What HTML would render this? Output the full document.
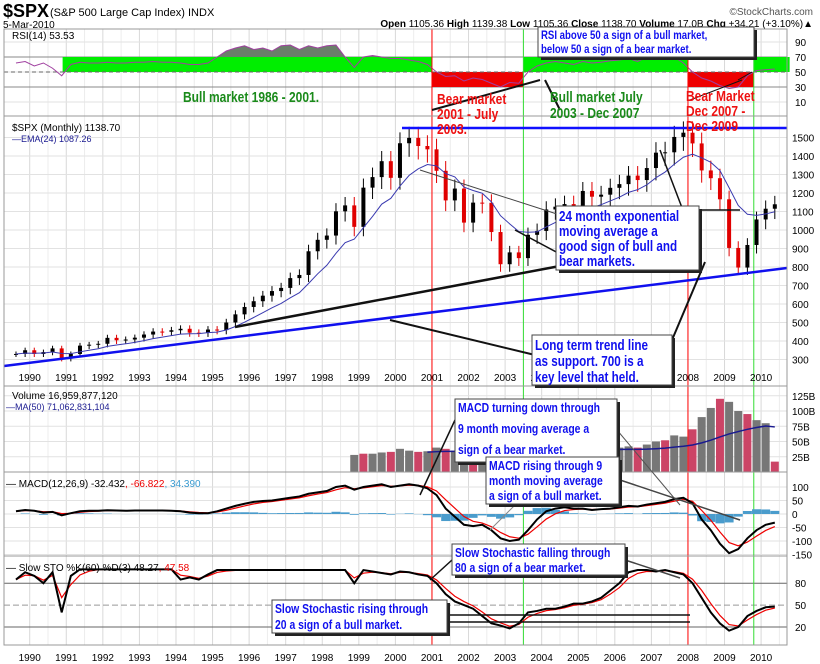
<!DOCTYPE html>
<html><head><meta charset="utf-8">
<style>
html,body{margin:0;padding:0;background:#fff;}
svg{display:block;font-family:"Liberation Sans",sans-serif;}
.ann{font-family:"Liberation Sans Narrow","Liberation Sans",sans-serif;font-weight:bold;}
</style></head>
<body>
<svg id="chart" width="820" height="664" viewBox="0 0 820 664" xmlns="http://www.w3.org/2000/svg">
<rect x="0" y="0" width="820" height="664" fill="#fff"/>
<g>
<text x="3" y="17" font-size="18" font-weight="bold">$SPX</text>
<text x="50" y="16" font-size="11">(S&amp;P 500 Large Cap Index) INDX</text>
<text x="3" y="28" font-size="10">5-Mar-2010</text>
<text x="813" y="15" font-size="10" text-anchor="end" fill="#555">©StockCharts.com</text>
<text x="813" y="27" font-size="10" text-anchor="end"><tspan font-weight="bold">Open</tspan> 1105.36 <tspan font-weight="bold">High</tspan> 1139.38 <tspan font-weight="bold">Low</tspan> 1105.36 <tspan font-weight="bold">Close</tspan> 1138.70 <tspan font-weight="bold">Volume</tspan> 17.0B <tspan font-weight="bold">Chg</tspan> +34.21 (+3.10%)▲</text>
</g>
<g id="grid"></g>
<g id="bands"></g>
<g id="marks"></g>
<g id="frames"></g>
<g id="axes"></g>
<g id="anno"></g>
</svg>
<script>
// ---- data (quarterly, starting 1989.5) ----
var startYear = 1989.5;
var closes = [330,350, 330,340,360,305, 330,375,380,385, 417,404,408,418, 435,451,450,458, 466,445,444,462, 459,500,544,584, 615,645,670,687, 740,757,885,947, 970,1101,1133,1017, 1229,1286,1372,1282, 1469,1498,1454,1436, 1320,1160,1224,1040, 1148,1147,989,815, 879,848,974,995, 1111,1126,1140,1114, 1211,1180,1191,1228, 1248,1294,1270,1335, 1418,1420,1503,1526, 1468,1322,1280,1166, 903,797,919,1057, 1115,1139];
var rsiValues = [62,64, 58,62,55,45, 60,63,62,62, 63,62,62,63, 63,64,63,63, 62,60,60,62, 70,78,82,85, 80,82,78,85, 86,80,85,82, 85,86,70,56, 70,72,70,68, 68,66,64,60, 50,44,45,38, 42,40,35,30, 36,35,50,58, 62,64,62,60, 64,62,63,65, 66,68,64,70, 72,74,70,62, 50,42,38,32, 28,30,45,52, 53,54];
var volumeStart = 1998.75;
var volumeValues = [28, 30,30,32,33, 38,35,33,34, 40,38,35,40, 38,36,42,40, 38,36,34,35, 37,35,34,36, 36,37,36,38, 40,42,40,45, 50,52,60,58, 70,90,105,120, 115,100,95,85, 80,17];
var macdValues = [10,15, 12,5,8,-5, 3,10,12,12, 14,13,12,13, 13,13,13,12, 10,5,3,3, 10,20,30,38, 45,48,50,55, 60,65,75,80, 85,100,105,90, 100,105,110,100, 105,110,105,95, 70,20,-10,-40, -45,-40,-60,-90, -100,-95,-60,-20, 10,20,25,20, 20,15,18,20, 25,30,28,35, 40,45,55,60, 40,-20,-60,-110, -145,-130,-90,-60, -40,-32];
var stoKValues = [85,95, 90,80,95,40, 90,100,100,100, 100,100,100,100, 100,100,100,100, 85,88,85,92, 98,98,98,98, 98,98,98,98, 98,98,98,98, 98,98,98,80, 98,96,94,92, 96,95,92,90, 80,65,55,50, 45,35,25,22, 18,25,40,42, 45,45,48,52, 52,55,60,70, 80,95,98,98, 96,98,95,92, 80,60,40,25, 15,20,35,42, 47,48];
var yearLabels = [1990,1991,1992,1993,1994,1995,1996,1997,1998,1999,2000,2001,2002,2003,2004,2005,2006,2007,2008,2009,2010];
var priceTicks = [300,400,500,600,700,800,900,1000,1100,1200,1300,1400,1500];
var rsiTicks = [10,30,50,70,90];
var volTicks = [25,50,75,100,125];
var macdTicks = [-150,-100,-50,0,50,100];
var stoTicks = [20,50,80];

// ---- scales ----
var L=4, R=787;
function x(t){return 29.7+(t-1990)*36.57;}
function yP(p){return 230-(p-1000)*0.185;}
function yR(v){return 72-(v-50)*0.75;}
function yV(v){return 472-v*0.61;}
function yM(v){return 514-v*0.27;}
function yS(v){return 627-(v-20)*0.73;}
var NS="http://www.w3.org/2000/svg";
function mk(parent,tag,attrs){var e=document.createElementNS(NS,tag);for(var k in attrs)e.setAttribute(k,attrs[k]);document.getElementById(parent).appendChild(e);return e;}
function tq(i){return startYear+0.25*i+0.125;}
function ema(arr,a){var o=[],p=arr[0];for(var i=0;i<arr.length;i++){p=i?a*arr[i]+(1-a)*p:arr[i];o.push(p);}return o;}
var panels=[[29,116],[116,386],[386,472],[472,556],[556,645]];

// grid
yearLabels.forEach(function(yr){
  panels.forEach(function(p){
    var g=mk('grid','line',{x1:x(yr),x2:x(yr),y1:p[0],y2:p[1],stroke:'#d8d8d8','stroke-width':1});
    
    
    var h=mk('grid','line',{x1:x(yr+0.5),x2:x(yr+0.5),y1:p[0],y2:p[1],stroke:'#ececec','stroke-width':1});
    
    
  });
});
priceTicks.forEach(function(p){
  var g=mk('grid','line',{x1:L,x2:R,y1:yP(p),y2:yP(p),stroke:'#e2e2e2'});
  
  
});
rsiTicks.forEach(function(v){
  var g=mk('grid','line',{x1:L,x2:R,y1:yR(v),y2:yR(v),stroke:(v==70||v==30)?'#888':'#e2e2e2'});
  
  
});
volTicks.forEach(function(v){var g=mk('grid','line',{x1:L,x2:R,y1:yV(v),y2:yV(v),stroke:'#e2e2e2'});
  
  });
macdTicks.forEach(function(v){var g=mk('grid','line',{x1:L,x2:R,y1:yM(v),y2:yM(v),stroke:'#e2e2e2'});
  
  });
stoTicks.forEach(function(v){var g=mk('grid','line',{x1:L,x2:R,y1:yS(v),y2:yS(v),stroke:v==50?'#999':'#666','stroke-dasharray':v==50?'6,3':''});
  
  });

// RSI bands
[[1990.9,2001,70,50,'#00ee00'],[2003.5,2008,70,50,'#00ee00'],[2009.8,2010.78,70,50,'#00ee00'],[2001,2003.5,50,30,'#ee0000'],[2008,2009.8,50,30,'#ee0000']].forEach(function(b){
  var r=mk('bands','rect',{x:x(b[0]),y:yR(b[2]),width:x(b[1])-x(b[0]),height:yR(b[3])-yR(b[2]),fill:b[4]});
  
  
});
var m50=mk('bands','line',{x1:L,x2:R,y1:yR(50),y2:yR(50),stroke:'#666','stroke-dasharray':'4,3'});


var pa='M'+x(tq(0))+','+yR(70);
rsiValues.forEach(function(v,i){pa+=' L'+x(tq(i))+','+yR(Math.max(v,70));});
pa+=' L'+x(tq(rsiValues.length-1))+','+yR(70)+'Z';
var rf=mk('marks','path',{d:pa,fill:'#6a7f6a',stroke:'none'});


var rp=mk('marks','polyline',{points:rsiValues.map(function(v,i){return x(tq(i))+','+yR(v);}).join(' '),fill:'none',stroke:'#a040a0','stroke-width':1});



[[2001,'#ff0000'],[2008,'#ff0000'],[2003.5,'#33dd33'],[2009.8,'#33dd33']].forEach(function(v){
  var l=mk('marks','line',{x1:x(v[0]),x2:x(v[0]),y1:29,y2:645,stroke:v[1],'stroke-width':1});
  
  
});

// candles
closes.forEach(function(c,i){
  var o=i?closes[i-1]:c, hi=Math.max(o,c)*1.04, lo=Math.min(o,c)*0.95, cx=x(tq(i)), col=c<o?'#e00000':'#000';
  var w=mk('marks','line',{x1:cx,x2:cx,y1:yP(hi),y2:yP(lo),stroke:col,'stroke-width':1});
  
  
  var b=mk('marks','rect',{x:cx-2,y:yP(Math.max(o,c)),width:4,height:Math.max(1,Math.abs(yP(o)-yP(c))),fill:col});
  
  
});
var emaVals=ema(closes,2/9);
var ep=mk('marks','polyline',{points:emaVals.map(function(v,i){return x(tq(i))+','+yP(v);}).join(' '),fill:'none',stroke:'#3a3ab0','stroke-width':1});


var res=mk('marks','line',{x1:402,x2:R,y1:128,y2:128,stroke:'#1010ff','stroke-width':2.5});


var tr=mk('marks','line',{x1:L,x2:R,y1:366,y2:268,stroke:'#1010ee','stroke-width':2.5});


var bt=mk('marks','line',{x1:235,x2:560,y1:327,y2:266,stroke:'#111','stroke-width':2.5});



// volume
var vma=[];
volumeValues.forEach(function(v,i){
  var s=0,n=0;for(var j=Math.max(0,i-15);j<=i;j++){s+=volumeValues[j];n++;}vma.push(s/n);
  var t=volumeStart+0.25*i+0.125;
  var r=mk('marks','rect',{x:x(t)-4,y:yV(v),width:8,height:472-yV(v),fill:(i%3==1)?'#cc4466':'#777'});
  
  
});
var vp=mk('marks','polyline',{points:vma.slice(8).map(function(v,i){return x(volumeStart+0.25*(i+8)+0.125)+','+yV(v);}).join(' '),fill:'none',stroke:'#1a1a90','stroke-width':1.5});



// MACD
var sig=ema(macdValues,0.5);
macdValues.forEach(function(v,i){
  var h=(v-sig[i])*0.8, cx=x(tq(i));
  var r=mk('marks','rect',{x:cx-4.5,y:Math.min(yM(0),yM(h)),width:9,height:Math.abs(yM(h)-yM(0)),fill:'#4a9ccc'});
  
  
});
var sp=mk('marks','polyline',{points:sig.map(function(v,i){return x(tq(i))+','+yM(v);}).join(' '),fill:'none',stroke:'#e00','stroke-width':1.2});


var mp=mk('marks','polyline',{points:macdValues.map(function(v,i){return x(tq(i))+','+yM(v);}).join(' '),fill:'none',stroke:'#000','stroke-width':2});



// STO
var stoD=ema(stoKValues,0.6);
var dp=mk('marks','polyline',{points:stoD.map(function(v,i){return x(tq(i))+','+yS(Math.min(v,99));}).join(' '),fill:'none',stroke:'#e00','stroke-width':1.2});


var kp=mk('marks','polyline',{points:stoKValues.map(function(v,i){return x(tq(i))+','+yS(Math.min(v,99));}).join(' '),fill:'none',stroke:'#000','stroke-width':2});



panels.forEach(function(p){var f=mk('frames','rect',{x:L,y:p[0],width:R-L,height:p[1]-p[0],fill:'none',stroke:'#999'});
  
  });

function lab(xx,yy,txt,size,anchor,fill,name){var t=mk('axes','text',{x:xx,y:yy,'font-size':size,'text-anchor':anchor||'start',fill:fill||'#000'});t.textContent=txt;
  
  return t;}
yearLabels.forEach(function(yr){lab(x(yr),381,yr,10,'middle','#000','year-label-main');lab(x(yr),661,yr,10,'middle','#000','year-label-bottom');});
priceTicks.forEach(function(p){lab(792,yP(p)+4,p,10,'start','#000','price-tick');});
rsiTicks.forEach(function(v){lab(795,yR(v)+4,v,10,'start','#000','rsi-tick');});
volTicks.forEach(function(v){lab(792,yV(v)+4,v+'B',10,'start','#000','volume-tick');});
macdTicks.forEach(function(v){lab(792,yM(v)+4,v,10,'start','#000','macd-tick');});
stoTicks.forEach(function(v){lab(795,yS(v)+4,v,10,'start','#000','sto-tick');});
lab(12,39,'RSI(14) 53.53',10,'start','#000','rsi-legend');
lab(12,131,'$SPX (Monthly) 1138.70',10,'start','#000','price-legend');
lab(12,142,'—EMA(24) 1087.26',9,'start','#1a1a90','ema-legend');
lab(12,399,'Volume 16,959,877,120',10,'start','#000','volume-legend');
lab(6,410,'—MA(50) 71,062,831,104',9,'start','#1a1a90','volume-ma-legend');
var ml=lab(6,487,'— MACD(12,26,9) -32.432',10,'start','#000','macd-legend');
var ts=document.createElementNS(NS,'tspan');ts.setAttribute('fill','#e00');ts.textContent=', -66.822';ml.appendChild(ts);
var ts2=document.createElementNS(NS,'tspan');ts2.setAttribute('fill','#3a9ad0');ts2.textContent=', 34.390';ml.appendChild(ts2);
var sl=lab(6,571,'— Slow STO %K(60) %D(3) 48.27',10,'start','#000','sto-legend');
var ts3=document.createElementNS(NS,'tspan');ts3.setAttribute('fill','#e00');ts3.textContent=', 47.58';sl.appendChild(ts3);

// annotations
function line(x1,y1,x2,y2,w,c){var l=mk('anno','line',{x1:x1,y1:y1,x2:x2,y2:y2,stroke:c||'#111','stroke-width':w||2});
  
  }
function box(x0,y0,w,h,lines,size,lh,sx,name){
  var s=mk('anno','rect',{x:x0+3,y:y0+3,width:w,height:h,fill:'#222'});
  
  
  var r=mk('anno','rect',{x:x0,y:y0,width:w,height:h,fill:'#fff',stroke:'#444'});
  
  
  lines.forEach(function(t,i){var e=mk('anno','text',{x:0,y:0,transform:'translate('+(x0+3)+','+(y0+size+i*lh)+') scale('+sx+',1)','font-size':size,fill:'#1010ee','class':'ann'});e.textContent=t;
    
    });
}
function ctext(x0,y0,lines,col,lh,name){lines.forEach(function(t,i){var e=mk('anno','text',{x:0,y:0,transform:'translate('+x0+','+(y0+i*lh)+') scale(0.8,1)','font-size':15,fill:col,'class':'ann'});e.textContent=t;
  
  });}
line(432,110,540,80,2);line(560,110,545,80,2);line(690,100,742,80,1);line(738,80,752,72,1);
line(420,170,560,215,1,'#444');line(590,270,515,230,1.5);line(700,255,660,150,1.5);line(700,210,740,210,1.5);
line(390,320,535,355,2);line(672,340,705,262,2);
line(455,420,420,495,1.5);line(617,430,680,505,1,'#555');line(620,480,740,520,1.5,'#444');line(520,500,490,530,1,'#888');
line(452,560,430,580,1.5);line(625,560,680,578,1.5,'#444');line(447,615,690,615,1.5);line(447,622,690,622,1.5);
ctext(183,102,['Bull market 1986 - 2001.'],'#1a8a1a',15,'bull-label-1');
ctext(437,104,['Bear market','2001 - July','2003.'],'#ee1111',15,'bear-label-1');
ctext(550,102,['Bull market July','2003 - Dec 2007'],'#1a8a1a',16,'bull-label-2');
ctext(686,101,['Bear Market','Dec 2007 -','Dec 2009'],'#ee1111',15,'bear-label-2');
box(538,27,216,30,['RSI above 50 a sign of a bull market,','below 50 a sign of a bear market.'],12,14,0.8,'rsi-note');
box(556,206,143,64,['24 month exponential','moving average a','good sign of bull and','bear markets.'],15,15,0.78,'ema-note');
box(532,335,140,50,['Long term trend line','as support. 700 is a','key level that held.'],15,16,0.78,'trendline-note');
box(455,399,162,63,['MACD turning down through','9 month moving average a','sign of a bear market.'],13,21,0.8,'macd-down-note');
box(486,457,133,47,['MACD rising through 9','month moving average','a sign of a bull market.'],13,15,0.8,'macd-up-note');
box(452,544,173,31,['Slow Stochastic falling through','80 a sign of a bear market.'],13,15,0.8,'sto-down-note');
box(272,600,175,33,['Slow Stochastic rising through','20 a sign of a bull market.'],13,16,0.8,'sto-up-note');
</script>
</body></html>
